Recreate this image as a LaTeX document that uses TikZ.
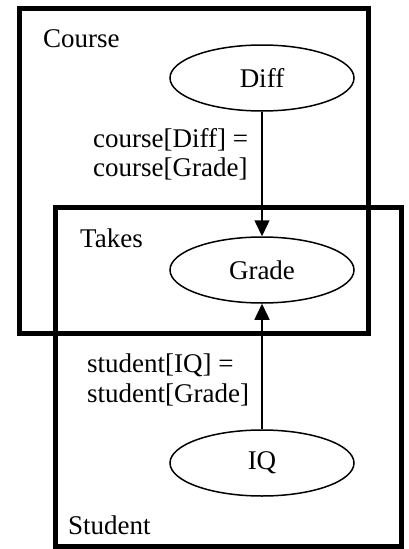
\documentclass[tikz,border=0pt]{standalone}
\usepackage{fontspec}
\setmainfont{Liberation Serif}
\usetikzlibrary{arrows.meta,shapes.geometric}
\begin{document}
\begin{tikzpicture}[x=1pt,y=-1pt,
  every node/.style={font=\fontsize{27}{29}\selectfont},
  frame/.style={draw=black,line width=5pt},
  var/.style={draw=black,line width=1.5pt,ellipse,minimum width=184pt,minimum height=66pt,inner sep=0pt},
  lbl/.style={anchor=base west,inner sep=0pt},
  dep/.style={draw=black,line width=1.5pt,-{Triangle[length=16pt,width=15pt]}}]
\useasboundingbox (0,0) rectangle (409,549);
\draw[frame] (19.5,8.5) rectangle (368,333.5);
\draw[frame] (55,207) rectangle (401,546.5);
\node[var] (diff) at (262,78) {Diff};
\node[var] (grade) at (262,270) {Grade};
\node[var] (iq) at (262,463) {IQ};
\node[lbl] (course) at (43,47) {Course};
\node[lbl] (takes) at (80,247) {Takes};
\node[lbl] (student) at (68,534) {Student};
\node[lbl] (l1) at (93,147) {course[Diff] =};
\node[lbl] (l2) at (93,176) {course[Grade]};
\node[lbl] (l3) at (87,372) {student[IQ] =};
\node[lbl] (l4) at (87,402) {student[Grade]};
\draw[dep] (diff.south) -- (grade.north);
\draw[dep] (iq.north) -- (grade.south);
\end{tikzpicture}
\end{document}
